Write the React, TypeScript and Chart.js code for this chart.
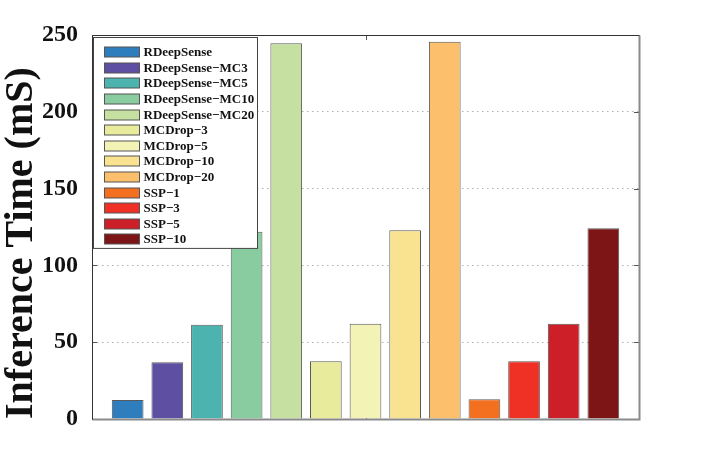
import { Chart, registerables } from 'chart.js';
import { useEffect, useRef } from 'react';

Chart.register(...registerables);

const methods = [
    'RDeepSense',
    'RDeepSense−MC3',
    'RDeepSense−MC5',
    'RDeepSense−MC10',
    'RDeepSense−MC20',
    'MCDrop−3',
    'MCDrop−5',
    'MCDrop−10',
    'MCDrop−20',
    'SSP−1',
    'SSP−3',
    'SSP−5',
    'SSP−10',
];
const inferenceTimes = [12.4, 36.9, 61.4, 121.9, 244.6, 37.6, 62.0, 122.9, 245.6, 12.8, 37.6, 62.0, 124.2];
const barColors = [
    '#2e7ebe', '#5e4fa2', '#4db3ae', '#89cc9f', '#c5e0a0',
    '#e8eb9c', '#f3f3b6', '#f9e390', '#fcbf6c',
    '#f37020', '#ee3124', '#cc1f27', '#7d1416',
];
const yTicks = [0, 50, 100, 150, 200, 250];
const xTicks = [7];

const serif = '"Liberation Serif", "Times New Roman", serif';

// small inward ticks, drawn under the bars
const innerTicksPlugin = {
    id: 'innerTicks',
    beforeDatasetsDraw(chart: any) {
        const { ctx, chartArea: a, scales } = chart;
        ctx.save();
        ctx.strokeStyle = '#555';
        ctx.lineWidth = 1;
        ctx.beginPath();
        scales.y.ticks.forEach((t: any) => {
            const py = Math.round(scales.y.getPixelForValue(t.value)) + 0.5;
            ctx.moveTo(a.left, py);
            ctx.lineTo(a.left + 5, py);
            ctx.moveTo(a.right, py);
            ctx.lineTo(a.right - 5, py);
        });
        scales.x.ticks.forEach((t: any) => {
            const px = Math.round(scales.x.getPixelForValue(t.value)) + 0.5;
            ctx.moveTo(px, a.top);
            ctx.lineTo(px, a.top + 5);
            ctx.moveTo(px, a.bottom);
            ctx.lineTo(px, a.bottom - 5);
        });
        ctx.stroke();
        ctx.restore();
    },
};

// box around the plot
const framePlugin = {
    id: 'frame',
    afterDatasetsDraw(chart: any) {
        const { ctx, chartArea: a } = chart;
        const l = Math.round(a.left) + 0.5;
        const t = Math.round(a.top) + 0.5;
        const r = Math.round(a.right) + 0.5;
        const b = Math.round(a.bottom) + 0.5;
        ctx.save();
        ctx.lineWidth = 2;
        ctx.strokeStyle = '#8a8a8a';
        ctx.beginPath();
        ctx.moveTo(r, t);
        ctx.lineTo(r, b);
        ctx.lineTo(l, b);
        ctx.stroke();
        ctx.lineWidth = 1;
        ctx.strokeStyle = '#333';
        ctx.beginPath();
        ctx.moveTo(l, b);
        ctx.lineTo(l, t);
        ctx.lineTo(r, t);
        ctx.stroke();
        ctx.restore();
    },
};

// legend drawn inside the plot, over the bars
const legendBoxPlugin = {
    id: 'legendBox',
    afterDatasetsDraw(chart: any) {
        const { ctx, chartArea: a } = chart;
        const left = Math.round(a.left) + 1.5;
        const top = Math.round(a.top) + 2.5;
        const rowH = 15.6;
        const w = 164;
        const h = 14.7 + rowH * (methods.length - 1) + 9;
        ctx.save();
        ctx.fillStyle = '#fff';
        ctx.fillRect(left, top, w, h);
        ctx.strokeStyle = '#444';
        ctx.lineWidth = 1;
        ctx.strokeRect(left, top, w, h);
        ctx.font = `bold 13px ${serif}`;
        ctx.textBaseline = 'middle';
        ctx.textAlign = 'left';
        methods.forEach((m, i) => {
            const cy = Math.round(top + 14.7 + i * rowH);
            ctx.fillStyle = barColors[i];
            ctx.fillRect(left + 11, cy - 5, 35, 10);
            ctx.strokeStyle = '#555';
            ctx.strokeRect(left + 11, cy - 5, 35, 10);
            ctx.fillStyle = '#111';
            ctx.fillText(m, left + 50, cy + 1);
        });
        ctx.restore();
    },
};

const InferenceChart = () => {
    const chartRef = useRef<HTMLCanvasElement>(null);

    useEffect(() => {
        document.body.style.margin = '0';
        if (!chartRef.current) return;
        const ctx = chartRef.current.getContext('2d');
        if (!ctx) return;

        const chart = new Chart(ctx, {
            type: 'bar',
            data: {
                datasets: [
                    {
                        label: 'Inference Time',
                        data: methods.map((_, i) => ({ x: i + 1, y: inferenceTimes[i] })),
                        backgroundColor: barColors,
                        borderColor: '#5a5a5a',
                        borderWidth: 1,
                        barPercentage: 0.8,
                        categoryPercentage: 1,
                    },
                ],
            },
            options: {
                animation: false,
                responsive: true,
                maintainAspectRatio: false,
                layout: { padding: { left: 0, top: 35, right: 67, bottom: 52 } },
                plugins: {
                    legend: { display: false },
                    tooltip: { enabled: false },
                },
                scales: {
                    x: {
                        type: 'linear',
                        min: 0.1,
                        max: 13.9,
                        offset: false,
                        ticks: { display: false },
                        grid: { display: false },
                        border: { display: false },
                        afterBuildTicks: (s: any) => {
                            s.ticks = xTicks.map((value) => ({ value }));
                        },
                        afterFit: (s: any) => {
                            s.height = 0;
                        },
                    },
                    y: {
                        min: 0,
                        max: 250,
                        afterBuildTicks: (s: any) => {
                            s.ticks = yTicks.map((value) => ({ value }));
                        },
                        afterFit: (s: any) => {
                            s.width = 92;
                        },
                        border: { display: false, dash: [1.5, 3.5] },
                        grid: {
                            drawTicks: false,
                            color: (c: any) =>
                                c.tick && (c.tick.value === 0 || c.tick.value === 250) ? 'rgba(0,0,0,0)' : '#b0b0b0',
                        },
                        ticks: {
                            padding: 14,
                            color: '#111',
                            font: { family: serif, size: 24, weight: 'bold' },
                        },
                        title: {
                            display: true,
                            text: 'Inference Time (mS)',
                            align: 'start',
                            color: '#111',
                            padding: { top: 2, bottom: 0 },
                            font: { family: serif, size: 40, weight: 'bold', lineHeight: 1 },
                        },
                    },
                },
            },
            plugins: [innerTicksPlugin, framePlugin, legendBoxPlugin],
        });

        return () => {
            chart.destroy();
        };
    }, []);

    return (
        <div style={{ width: 706, height: 471, position: 'relative' }}>
            <canvas ref={chartRef}></canvas>
        </div>
    );
};

export default function App() {
    return <InferenceChart />;
}
